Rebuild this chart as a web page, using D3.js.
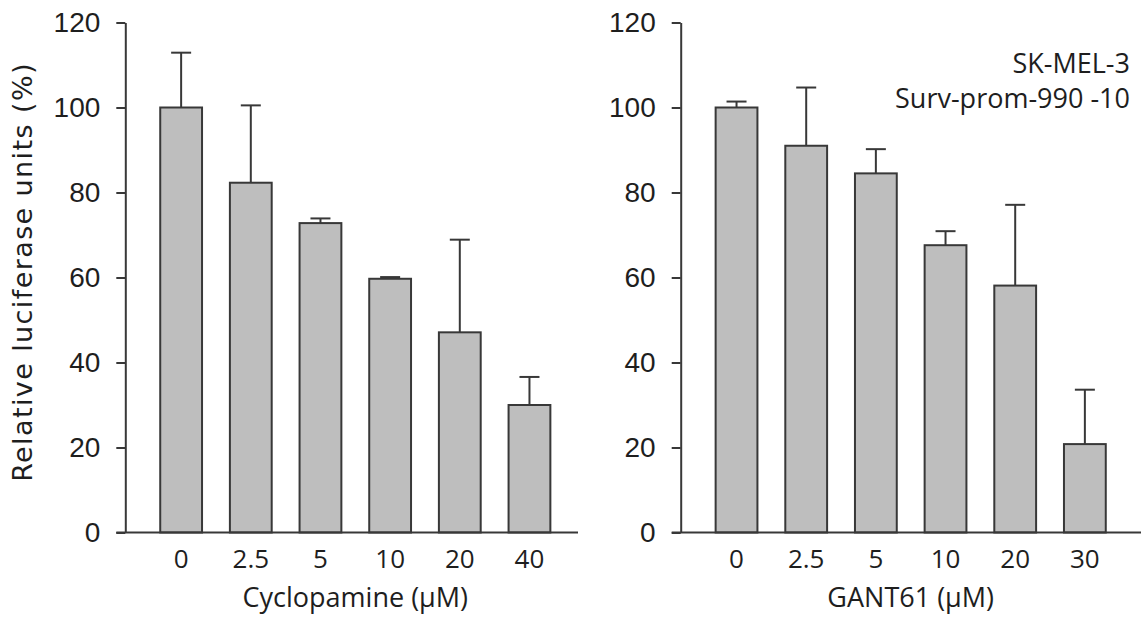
<!DOCTYPE html>
<html>
<head>
<meta charset="utf-8">
<script src="https://cdn.jsdelivr.net/npm/d3@7"></script>
<style>
	body { margin: 0; background: #fff; }
	svg { display: block; }
</style>
</head>
<body>
<div id="chart"></div>
<script>
// values (mean and upper error, % of control)
const yTicks = [0, 20, 40, 60, 80, 100, 120];

const cycloDoses = ["0", "2.5", "5", "10", "20", "40"];
const cycloMean = [100, 82.3, 72.8, 59.7, 47.1, 30.0];
const cycloErr = [12.9, 18.2, 1.1, 0.4, 21.8, 6.6];

const gantDoses = ["0", "2.5", "5", "10", "20", "30"];
const gantMean = [100, 91.0, 84.5, 67.6, 58.1, 20.8];
const gantErr = [1.4, 13.7, 5.7, 3.3, 19.0, 12.8];

const yLabel = "Relative luciferase units (%)";
const cellLine = ["SK-MEL-3", "Surv-prom-990 -10"];

const width = 1141, height = 619;
const ink = "#383838";
const textInk = "#1e1e1e";
const barFill = "#bebebe";

const svg = d3.select("#chart")
	.append("svg")
	.attr("width", width)
	.attr("height", height);

// shared y scale for both panels
const y = d3.scaleLinear()
	.domain([0, 120])
	.range([532.5, 22.5]);

// draw one bar panel; axisX is where the y axis sits
const drawPanel = (axisX, lineEnd, doses, means, errs, title) => {
	const x = d3.scaleBand()
		.domain(doses)
		.range([axisX + 21, axisX + 439])
		.paddingInner(0.4)
		.paddingOuter(0.2);

	const g = svg.append("g");

	// error bars (upper only), drawn first so the bar outline sits on top
	const err = g.selectAll("g.err")
		.data(doses)
		.enter()
		.append("g")
		.attr("class", "err");

	err.append("line")
		.attr("x1", d => x(d) + x.bandwidth() / 2)
		.attr("x2", d => x(d) + x.bandwidth() / 2)
		.attr("y1", (d, i) => y(means[i]))
		.attr("y2", (d, i) => y(means[i] + errs[i]))
		.attr("stroke", ink)
		.attr("stroke-width", 2);

	err.append("line")
		.attr("x1", d => x(d) + x.bandwidth() / 2 - 10)
		.attr("x2", d => x(d) + x.bandwidth() / 2 + 10)
		.attr("y1", (d, i) => y(means[i] + errs[i]))
		.attr("y2", (d, i) => y(means[i] + errs[i]))
		.attr("stroke", ink)
		.attr("stroke-width", 2);

	g.selectAll("rect")
		.data(doses)
		.enter()
		.append("rect")
		.attr("x", d => x(d))
		.attr("width", x.bandwidth())
		.attr("y", (d, i) => y(means[i]))
		.attr("height", (d, i) => y(0) - y(means[i]))
		.attr("fill", barFill)
		.attr("stroke", ink)
		.attr("stroke-width", 2);

	// y axis
	const yAxis = g.append("g")
		.attr("transform", `translate(${axisX},0)`)
		.call(d3.axisLeft(y).tickValues(yTicks).tickSize(9).tickSizeOuter(0).tickPadding(16));
	yAxis.select(".domain").attr("stroke", ink).attr("stroke-width", 2);
	yAxis.selectAll(".tick line").attr("stroke", ink).attr("stroke-width", 2);
	yAxis.selectAll(".tick text")
		.attr("fill", textInk)
		.style("font-family", "'Liberation Sans', Arial, sans-serif")
		.style("font-size", "28px");

	// baseline runs from the 0 tick to the panel end
	g.append("line")
		.attr("x1", axisX - 9)
		.attr("x2", lineEnd)
		.attr("y1", y(0))
		.attr("y2", y(0))
		.attr("stroke", ink)
		.attr("stroke-width", 2);

	// x axis labels
	const xAxis = g.append("g")
		.attr("transform", `translate(0,${y(0)})`)
		.call(d3.axisBottom(x).tickSize(0).tickPadding(17));
	xAxis.select(".domain").remove();
	xAxis.selectAll(".tick text")
		.attr("fill", textInk)
		.style("font-family", "'Open Sans', sans-serif")
		.style("font-size", "26px");

	g.append("text")
		.attr("x", (x.range()[0] + x.range()[1]) / 2)
		.attr("y", 607)
		.attr("text-anchor", "middle")
		.attr("fill", textInk)
		.style("font-family", "'Open Sans', sans-serif")
		.style("font-size", "27px")
		.text(title);
};

drawPanel(125.3, 578, cycloDoses, cycloMean, cycloErr, "Cyclopamine (\u00b5M)");
drawPanel(680.7, 1141, gantDoses, gantMean, gantErr, "GANT61 (\u00b5M)");

// y axis title
svg.append("text")
	.attr("transform", "translate(32,272) rotate(-90)")
	.attr("text-anchor", "middle")
	.attr("fill", textInk)
	.style("font-family", "'DejaVu Sans', sans-serif")
	.style("font-size", "27px")
	.style("letter-spacing", "1.4px")
	.text(yLabel);

// cell line note, top right
svg.append("g")
	.selectAll("text")
	.data(cellLine)
	.enter()
	.append("text")
	.attr("x", 1130)
	.attr("y", (d, i) => 73 + i * 35)
	.attr("text-anchor", "end")
	.attr("fill", textInk)
	.style("font-family", "'Open Sans', sans-serif")
	.style("font-size", "27px")
	.text(d => d);
</script>
</body>
</html>
